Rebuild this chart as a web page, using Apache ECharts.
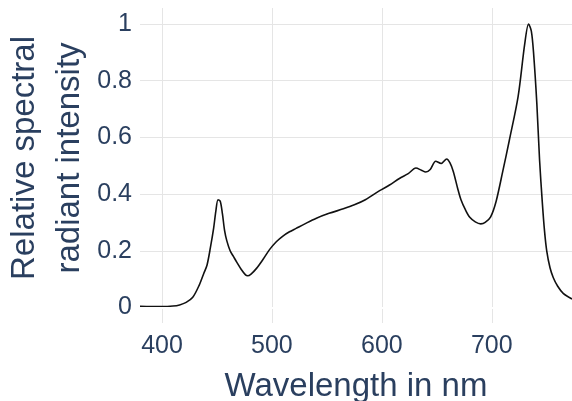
<!DOCTYPE html>
<html>
<head>
<meta charset="utf-8">
<script src="https://cdn.jsdelivr.net/npm/echarts@6/dist/echarts.min.js"></script>
<style>html,body{margin:0;padding:0;background:#fff}#c{width:572px;height:401px}</style>
</head>
<body>
<div id="c"></div>
<script>
var wavelengths = [380,390,400,410,416,422,428,434,438,441,444,447,449,451,453,455,457,459,462,465,468,472,476,478,481,486,492,498,504,510,516,522,530,540,552,565,575,585,598,607,616,624,631,636,640,644,649,654,659,662,665,669,672,676,680,685,690,694,699,704,710,716,724,730,733.5,736,738,741,743.5,746,748,750,753,756,760,765,773];
var intensity = [0.004,0.003,0.003,0.005,0.009,0.018,0.036,0.08,0.12,0.15,0.21,0.28,0.34,0.38,0.375,0.33,0.27,0.235,0.2,0.18,0.16,0.135,0.115,0.112,0.118,0.138,0.17,0.205,0.232,0.252,0.267,0.279,0.295,0.314,0.332,0.348,0.362,0.38,0.412,0.432,0.455,0.472,0.492,0.484,0.478,0.487,0.516,0.508,0.524,0.51,0.48,0.42,0.38,0.345,0.318,0.302,0.295,0.3,0.32,0.375,0.48,0.59,0.745,0.93,1.0,0.975,0.9,0.72,0.52,0.37,0.27,0.2,0.14,0.105,0.075,0.05,0.03];
var xTicks = [400,500,600,700];
var yTicks = [0,0.2,0.4,0.6,0.8,1];
var xTitle = 'Wavelength in nm';
var yTitle = 'Relative spectral\nradiant intensity';

var FONT = '"Liberation Sans", Arial, sans-serif';
var TXT = '#2a3f5f';
var GRID = '#e5e5e5';
var pts = wavelengths.map(function(w,i){return [w,intensity[i]];});

var chart = echarts.init(document.getElementById('c'), null, {renderer:'canvas'});
chart.setOption({
  animation:false,
  backgroundColor:'#fff',
  grid:{left:140,right:0,top:8,bottom:78,containLabel:false,outerBoundsMode:'none'},
  xAxis:{
    type:'value', min:380, max:773,
    name:xTitle, nameLocation:'middle', nameGap:47,
    nameTextStyle:{fontFamily:FONT,fontSize:33,color:TXT},
    axisLine:{show:false}, axisTick:{show:false, customValues:xTicks},
    axisLabel:{customValues:xTicks, fontFamily:FONT,fontSize:25,color:TXT,margin:11},
    splitLine:{show:true,lineStyle:{color:GRID,width:1}}
  },
  yAxis:{
    type:'value', min:-0.0547, max:1.0564,
    axisLine:{show:false}, axisTick:{show:false, customValues:yTicks.filter(function(v){return v>0;})},
    axisLabel:{customValues:yTicks, fontFamily:FONT,fontSize:25,color:TXT,margin:8,
      formatter:function(v){return String(Math.round(v*10)/10);}},
    splitLine:{show:true,lineStyle:{color:GRID,width:1}}
  },
  graphic:[{
    type:'text', x:47, y:158, rotation:Math.PI/2,
    style:{text:yTitle, font:'33px '+FONT, fill:TXT, align:'center', verticalAlign:'middle', lineHeight:45}
  }],
  series:[
    {type:'line', data:[], z:1, silent:true,
     markLine:{silent:true, symbol:'none', label:{show:false}, animation:false,
       lineStyle:{color:'#fff', width:2, type:'solid'}, data:[{yAxis:0}]}},
    {type:'line', data:pts, z:2, smooth:0.3, showSymbol:false, symbol:'none',
     lineStyle:{color:'#111', width:1.6}}
  ]
});
</script>
</body>
</html>
